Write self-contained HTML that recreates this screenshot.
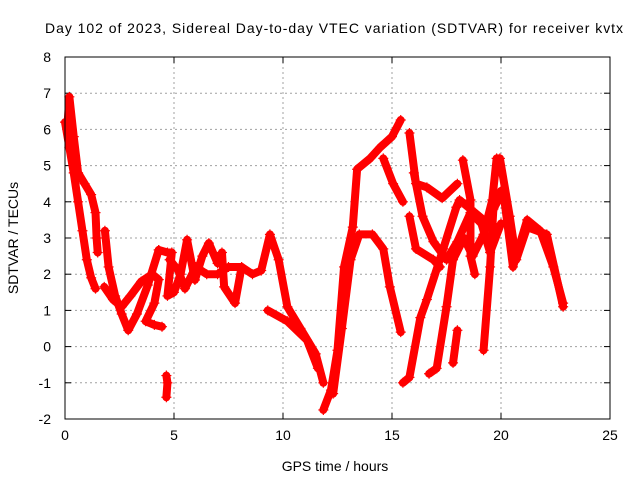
<!DOCTYPE html>
<html><head><meta charset="utf-8"><style>
body{margin:0;background:#fff}
svg{display:block;font-family:"Liberation Sans",sans-serif}
</style></head><body>
<svg id="chart" width="640" height="480" viewBox="0 0 640 480" xmlns="http://www.w3.org/2000/svg">
<rect width="640" height="480" fill="#fff"/>
<text x="334" y="33" font-size="14" text-anchor="middle" textLength="578">Day 102 of 2023, Sidereal Day-to-day VTEC variation (SDTVAR) for receiver kvtx</text>
<text x="335" y="471" font-size="14" text-anchor="middle">GPS time / hours</text>
<text transform="translate(18,238) rotate(-90)" font-size="14" text-anchor="middle">SDTVAR / TECUs</text>
<g id="grid"></g><g id="ticks"></g><g id="marks"></g>
<rect x="65" y="57" width="545" height="362" fill="none" stroke="#000" stroke-width="1"/>
</svg>
<script>
const xTicks=[0,5,10,15,20,25];
const yTicks=[-2,-1,0,1,2,3,4,5,6,7,8];
const trackA1=[[0,6.2],[0.2,5.5],[0.4,4.8],[0.6,4.0],[0.8,3.2],[1.0,2.4],[1.2,1.9],[1.4,1.6]];
const trackA2=[[0.1,6.0],[0.2,6.9],[0.4,5.8],[0.6,4.8],[0.9,4.5],[1.2,4.2],[1.4,3.7],[1.45,3.0],[1.5,2.6]];
const trackB1=[[1.83,3.2],[2.0,2.2],[2.3,1.4],[2.6,0.9],[2.9,0.45],[3.3,0.9],[3.8,1.7],[4.3,2.67]];
const trackB2=[[1.8,1.65],[2.2,1.3],[2.6,1.1],[3.0,1.4],[3.5,1.8],[4.0,2.0],[4.3,1.85],[4.1,1.2],[3.7,0.7],[4.1,0.6],[4.45,0.55]];
const trackC1=[[4.3,2.67],[4.7,2.6],[4.9,2.6],[4.7,1.4],[5.0,1.5],[5.3,2.0],[5.6,2.95],[5.96,1.84],[6.3,2.5],[6.6,2.86],[7.0,2.3],[7.2,2.6],[7.3,1.65],[7.8,1.2],[8.1,2.2]];
const trackC2=[[4.8,2.4],[5.2,2.1],[5.5,1.6],[6.0,2.2],[6.5,2.0],[7.0,2.0],[7.5,2.2],[8.1,2.2],[8.6,2.0],[9.0,2.1],[9.4,3.1],[9.8,2.4],[10.2,1.1],[10.8,0.5],[11.5,-0.2],[11.85,-1.0]];
const trackC3=[[9.3,1.0],[10.2,0.7],[11.1,0.18],[11.6,-0.6]];
const trackD1=[[11.85,-1.75],[12.2,-1.2],[12.5,-0.1],[12.8,2.2],[13.2,3.3],[13.4,4.9],[14.0,5.2],[14.45,5.5],[15.0,5.8],[15.4,6.26]];
const trackD1b=[[14.6,5.2],[15.05,4.5],[15.5,4.0]];
const trackD2=[[12.3,-1.3],[12.7,0.5],[13.1,2.4],[13.5,3.1],[14.1,3.1],[14.6,2.7],[14.9,1.65],[15.4,0.4]];
const trackD3=[[15.8,5.9],[16.1,4.5],[16.6,4.4],[17.3,4.1],[18.0,4.5]];
const trackD4=[[16.0,4.8],[16.4,3.6],[16.9,2.9],[17.5,2.4],[18.0,2.9],[18.6,3.7],[19.1,3.4],[19.5,2.6],[20.0,3.4]];
const trackD4b=[[15.8,3.6],[16.1,2.7],[16.9,2.4],[17.2,2.2]];
const trackD5=[[15.5,-1.0],[15.8,-0.85],[16.3,0.8],[16.6,1.3],[17.35,2.7],[17.95,3.85],[18.1,4.05],[18.8,3.7],[19.4,3.4],[20.0,4.3]];
const trackD6=[[16.7,-0.75],[17.05,-0.6],[17.5,1.1],[17.8,2.4],[18.3,3.0],[18.7,2.5],[19.2,3.1],[19.6,4.05],[19.8,5.2],[19.95,5.2],[20.4,3.6],[20.7,2.4],[21.2,3.3],[22.1,3.1],[22.85,1.1]];
const trackD7=[[18.25,5.15],[18.6,4.05],[18.6,2.5],[18.8,2.0]];
const trackD8=[[19.2,-0.1],[19.5,2.2],[19.65,3.8],[20.1,4.3],[20.55,2.2],[21.2,3.5],[21.8,3.2],[22.4,2.2],[22.85,1.2]];
const trackE=[[17.8,-0.45],[18.0,0.45]];
const trackF=[[4.65,-0.8],[4.7,-1.0],[4.65,-1.4]];
const tracks=[trackA1,trackA2,trackB1,trackB2,trackC1,trackC2,trackC3,trackD1,trackD1b,trackD2,trackD3,trackD4,trackD4b,trackD5,trackD6,trackD7,trackD8,trackE,trackF];

const X0=65,X1=610,Y0=419,Y1=57;
const xs=h=>X0+(h-0)/(25-0)*(X1-X0);
const ys=v=>Y0-(v+2)/(8+2)*(Y0-Y1);
const NS='http://www.w3.org/2000/svg';
const grid=document.getElementById('grid'),tk=document.getElementById('ticks'),mk=document.getElementById('marks');
function mkEl(t,a,p){const e=document.createElementNS(NS,t);for(const k in a)e.setAttribute(k,a[k]);p.appendChild(e);return e;}
xTicks.forEach(t=>{
  const x=xs(t);
  if(t>0&&t<25){const g=mkEl('line',{x1:x,x2:x,y1:Y1,y2:Y0,stroke:'#a0a0a0','stroke-dasharray':'2,3'},grid);
  
  }
  mkEl('line',{x1:x,x2:x,y1:Y0,y2:Y0-6,stroke:'#000'},tk);
  mkEl('line',{x1:x,x2:x,y1:Y1,y2:Y1+6,stroke:'#000'},tk);
  const l=mkEl('text',{x:x,y:Y0+21,'font-size':14,'text-anchor':'middle'},tk);l.textContent=t;
  
  
});
yTicks.forEach(t=>{
  const y=ys(t);
  if(t>-2&&t<8){const g=mkEl('line',{x1:X0,x2:X1,y1:y,y2:y,stroke:'#a0a0a0','stroke-dasharray':'2,3'},grid);
  
  }
  mkEl('line',{x1:X0,x2:X0+6,y1:y,y2:y,stroke:'#000'},tk);
  mkEl('line',{x1:X1,x2:X1-6,y1:y,y2:y,stroke:'#000'},tk);
  const l=mkEl('text',{x:51,y:y+5,'font-size':14,'text-anchor':'end'},tk);l.textContent=t;
  
  
});
tracks.forEach(tr=>{
  const pts=tr.map(p=>xs(p[0])+','+ys(p[1])).join(' ');
  const pl=mkEl('polyline',{points:pts,fill:'none',stroke:'#ff0000','stroke-width':8,'stroke-linejoin':'round','stroke-linecap':'round'},mk);
  
  
  tr.forEach(p=>{
    const x=xs(p[0]),y=ys(p[1]);
    const m=mkEl('path',{d:`M${x-5},${y}H${x+5}M${x},${y-5}V${y+5}`,stroke:'#ff0000','stroke-width':1.2},mk);
    
    
  });
});
</script>
</body></html>
